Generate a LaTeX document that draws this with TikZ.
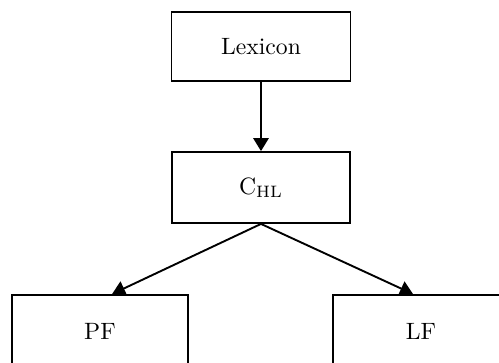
\documentclass[tikz,border=0pt]{standalone}
\usetikzlibrary{arrows.meta,calc}
\begin{document}
\begin{tikzpicture}[x=0.423pt,y=-0.423pt,
  stagebox/.style={draw,line width=0.8pt,inner sep=0pt,
    minimum width=#1*0.423pt},
  flow/.style={line width=0.8pt,-{Triangle[width=6.5pt,length=5.5pt]}}]
  \useasboundingbox (0,0) rectangle (499,362);
  \clip (0,0) rectangle (499,362);
  \node[stagebox=179,minimum height=29.2pt] (lex) at (261,46.5) {Lexicon};
  \node[stagebox=178,minimum height=30pt] (chl) at (261,187.5) {C$_{\mathrm{HL}}$};
  \node[stagebox=176,minimum height=30.5pt] (pf) at (100,331) {PF};
  \node[stagebox=176,minimum height=30.5pt] (lf) at (421,331) {LF};
  \draw[flow] (lex.south) -- (chl.north);
  \draw[flow] (chl.south) -- ($(pf.north west)!0.568!(pf.north east)$);
  \draw[flow] (chl.south) -- ($(lf.north west)!0.455!(lf.north east)$);
\end{tikzpicture}
\end{document}
